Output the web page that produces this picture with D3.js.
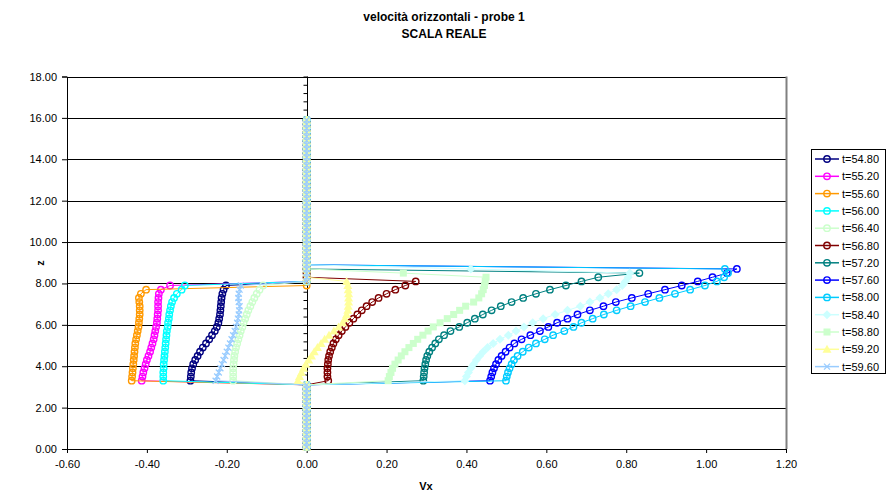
<!DOCTYPE html>
<html>
<head>
<meta charset="utf-8">
<script src="https://cdn.jsdelivr.net/npm/d3@7"></script>
<style>
  body { margin: 0; background: #fff; }
  svg { font-family: "Liberation Sans", Arial, sans-serif; }
</style>
</head>
<body>
<svg id="chart" width="888" height="494"></svg>
<script>
// sampling heights of the probe (z), one every 0.2
var zLevels = [0.1,0.3,0.5,0.7,0.9,1.1,1.3,1.5,1.7,1.9,2.1,2.3,2.5,2.7,2.9,3.1,
  3.3,3.5,3.7,3.9,4.1,4.3,4.5,4.7,4.9,5.1,5.3,5.5,5.7,5.9,6.1,6.3,6.5,6.7,6.9,7.1,
  7.3,7.5,7.7,7.9,8.1,8.3,8.5,8.7,8.9,9.1,9.3,9.5,9.7,9.9,10.1,10.3,10.5,10.7,10.9,
  11.1,11.3,11.5,11.7,11.9,12.1,12.3,12.5,12.7,12.9,13.1,13.3,13.5,13.7,13.9,14.1,
  14.3,14.5,14.7,14.9,15.1,15.3,15.5,15.7,15.9];
var wetStart = 3.3; // first wet level, below and above the profile Vx = 0

// Vx profiles, from z = 3.3 upward
var t5480 = [-0.291,-0.290,-0.289,-0.287,-0.284,-0.279,-0.273,-0.267,-0.260,-0.252,-0.244,-0.237,-0.230,-0.225,-0.221,-0.219,-0.217,-0.216,-0.215,-0.214,-0.213,-0.211,-0.208,-0.202];
var t5520 = [-0.413,-0.411,-0.409,-0.406,-0.403,-0.400,-0.396,-0.392,-0.389,-0.386,-0.383,-0.381,-0.379,-0.377,-0.375,-0.374,-0.373,-0.372,-0.372,-0.372,-0.371,-0.370,-0.365,-0.342];
var t5560 = [-0.438,-0.437,-0.436,-0.435,-0.434,-0.433,-0.432,-0.431,-0.430,-0.429,-0.427,-0.425,-0.423,-0.421,-0.420,-0.419,-0.418,-0.418,-0.418,-0.419,-0.420,-0.415,-0.402];
var t5600 = [-0.359,-0.359,-0.359,-0.358,-0.358,-0.357,-0.356,-0.355,-0.354,-0.353,-0.352,-0.351,-0.350,-0.348,-0.347,-0.345,-0.344,-0.342,-0.340,-0.337,-0.332,-0.325,-0.313,-0.305];
var t5640 = [-0.184,-0.184,-0.184,-0.184,-0.183,-0.182,-0.181,-0.179,-0.177,-0.174,-0.171,-0.168,-0.165,-0.161,-0.158,-0.154,-0.150,-0.146,-0.141,-0.136,-0.131,-0.125,-0.118,-0.109];
var t5680 = [0.054,0.052,0.052,0.052,0.053,0.054,0.056,0.059,0.063,0.067,0.073,0.080,0.088,0.097,0.107,0.117,0.127,0.138,0.150,0.164,0.180,0.200,0.222,0.247,0.273];
var t5720 = [0.292,0.293,0.294,0.295,0.297,0.299,0.302,0.307,0.314,0.322,0.331,0.344,0.360,0.382,0.402,0.421,0.441,0.463,0.486,0.513,0.542,0.574,0.609,0.649,0.688,0.730,0.833];
var t5760 = [0.459,0.462,0.465,0.469,0.474,0.480,0.488,0.498,0.508,0.520,0.538,0.560,0.584,0.605,0.627,0.653,0.678,0.709,0.743,0.774,0.814,0.855,0.897,0.939,0.979,1.016,1.052,1.077];
var t5800 = [0.499,0.501,0.504,0.508,0.513,0.519,0.528,0.541,0.556,0.574,0.596,0.617,0.645,0.668,0.688,0.716,0.744,0.776,0.811,0.847,0.883,0.922,0.960,0.997,1.027,1.045,1.055,1.047];
var t5840 = [0.396,0.400,0.405,0.411,0.418,0.425,0.433,0.442,0.453,0.467,0.484,0.505,0.524,0.544,0.566,0.592,0.622,0.653,0.685,0.709,0.734,0.755,0.776,0.790,0.798,0.805,0.809,0.411];
var t5880 = [0.204,0.207,0.211,0.215,0.221,0.229,0.237,0.246,0.256,0.267,0.278,0.291,0.304,0.317,0.334,0.352,0.368,0.383,0.398,0.418,0.431,0.438,0.442,0.445,0.447,0.449,0.242];
var t5920 = [-0.022,-0.018,-0.013,-0.008,-0.002,0.005,0.012,0.019,0.027,0.036,0.045,0.056,0.068,0.080,0.090,0.096,0.100,0.103,0.104,0.105,0.105,0.105,0.104,0.103,0.100];
var t5960 = [-0.228,-0.224,-0.220,-0.216,-0.212,-0.208,-0.204,-0.200,-0.196,-0.192,-0.188,-0.184,-0.180,-0.177,-0.174,-0.172,-0.170,-0.169,-0.168,-0.170,-0.171,-0.170,-0.168,-0.165];

var seriesNames = ["t=54.80","t=55.20","t=55.60","t=56.00","t=56.40","t=56.80","t=57.20","t=57.60","t=58.00","t=58.40","t=58.80","t=59.20","t=59.60"];
var seriesVals = [t5480,t5520,t5560,t5600,t5640,t5680,t5720,t5760,t5800,t5840,t5880,t5920,t5960];
var seriesColors = ["#000080","#FF00FF","#FF9900","#00FFFF","#CCFFCC","#800000","#008080","#0000FF","#00CCFF","#CCFFFF","#CCFFCC","#FFFF99","#99CCFF"];
var seriesMarkers = ["circle","circle","circle","circle","circle","circle","circle","circle","circle","diamond","square","triangle","x"];

var xTicks = [-0.6,-0.4,-0.2,0,0.2,0.4,0.6,0.8,1.0,1.2];
var yTicks = [0,2,4,6,8,10,12,14,16,18];

var svg = d3.select("#chart");
var plot = {left: 67, right: 786, top: 76.5, bottom: 449};

var xScale = d3.scaleLinear().domain([-0.6, 1.2]).range([plot.left, plot.right]);
var yScale = d3.scaleLinear().domain([0, 18]).range([plot.bottom, plot.top]);

var fmt = function(d) { return d.toFixed(2); };

svg.append("rect").attr("width", 888).attr("height", 494).attr("fill", "#fff");

// gridlines
svg.append("g").selectAll("line")
  .data(yTicks)
  .enter().append("line")
    .attr("x1", plot.left).attr("x2", plot.right)
    .attr("y1", function(d) { return Math.round(yScale(d)) + 0.5; })
    .attr("y2", function(d) { return Math.round(yScale(d)) + 0.5; })
    .attr("stroke", "#000").attr("stroke-width", 1);

// right border of plot area
svg.append("line")
  .attr("x1", plot.right + 0.5).attr("x2", plot.right + 0.5)
  .attr("y1", plot.top).attr("y2", plot.bottom)
  .attr("stroke", "#808080").attr("stroke-width", 2);

// y axis on the left
var yAxisCall = d3.axisLeft(yScale).tickValues(yTicks).tickFormat(fmt).tickSize(5).tickPadding(5);
var gy = svg.append("g")
  .attr("transform", "translate(" + plot.left + ",0)")
  .call(yAxisCall);

// x axis
var xAxisCall = d3.axisBottom(xScale).tickValues(xTicks).tickFormat(fmt).tickSize(4).tickPadding(7);
var gx = svg.append("g")
  .attr("transform", "translate(0," + plot.bottom + ")")
  .call(xAxisCall);

// vertical line at Vx = 0 with minor ticks
var minor = d3.range(0, 18.01, 0.4);
var g0 = svg.append("g")
  .attr("transform", "translate(" + (Math.round(xScale(0)) + 0.5) + ",0)")
  .call(d3.axisLeft(yScale).tickValues(minor).tickSize(4).tickFormat(""));

[gy, gx, g0].forEach(function(g) {
  g.selectAll(".domain").attr("stroke", "#000").attr("stroke-width", 1);
  g.selectAll(".tick line").attr("stroke", "#000");
  g.selectAll("text").attr("font-family", "Liberation Sans, Arial, sans-serif")
    .attr("font-size", 11).attr("fill", "#000");
});
g0.select(".domain").attr("d", "M-0," + plot.bottom + "V" + plot.top);

// series
var line = d3.line()
  .x(function(d) { return xScale(d.vx); })
  .y(function(d) { return yScale(d.z); });

function buildPoints(vals) {
  return zLevels.map(function(z, i) {
    var k = Math.round((z - wetStart) / 0.2);
    var v = (k >= 0 && k < vals.length) ? vals[k] : 0;
    return {z: z, vx: v};
  });
}

function drawMarker(sel, type, color) {
  if (type === "circle") {
    sel.append("circle").attr("r", 3.2).attr("fill", "none")
      .attr("stroke", color).attr("stroke-width", 1.4);
  } else if (type === "square") {
    sel.append("rect").attr("x", -3.5).attr("y", -3.5).attr("width", 7).attr("height", 7)
      .attr("fill", color);
  } else if (type === "diamond") {
    sel.append("path").attr("d", "M0,-4.5L4.5,0L0,4.5L-4.5,0Z").attr("fill", color);
  } else if (type === "triangle") {
    sel.append("path").attr("d", "M0,-4.5L4.5,3.5L-4.5,3.5Z").attr("fill", color);
  } else if (type === "x") {
    sel.append("path").attr("d", "M-3,-3L3,3M-3,3L3,-3")
      .attr("stroke", color).attr("stroke-width", 1.3).attr("fill", "none");
  }
}

var gs = svg.append("g");
seriesVals.forEach(function(vals, si) {
  var pts = buildPoints(vals);
  var g = gs.append("g");
  g.append("path")
    .datum(pts)
    .attr("fill", "none")
    .attr("stroke", seriesColors[si])
    .attr("stroke-width", 1)
    .attr("d", line);
  g.selectAll("g.m")
    .data(pts)
    .enter().append("g")
      .attr("class", "m")
      .attr("transform", function(d) { return "translate(" + xScale(d.vx) + "," + yScale(d.z) + ")"; })
      .each(function() { drawMarker(d3.select(this), seriesMarkers[si], seriesColors[si]); });
});

// titles
svg.append("text").attr("x", 444).attr("y", 21).attr("text-anchor", "middle")
  .attr("font-size", 12).attr("font-weight", "bold").text("velocità orizzontali - probe 1");
svg.append("text").attr("x", 444).attr("y", 38).attr("text-anchor", "middle")
  .attr("font-size", 12).attr("font-weight", "bold").text("SCALA REALE");
svg.append("text").attr("x", 426).attr("y", 490).attr("text-anchor", "middle")
  .attr("font-size", 11).attr("font-weight", "bold").text("Vx");
svg.append("text").attr("transform", "translate(44,263)rotate(-90)").attr("text-anchor", "middle")
  .attr("font-size", 11).attr("font-weight", "bold").text("z");

// legend
var lg = svg.append("g").attr("transform", "translate(811,149)");
lg.append("rect").attr("x", 0.5).attr("y", 0.5).attr("width", 74).attr("height", 224)
  .attr("fill", "#fff").attr("stroke", "#000");
seriesNames.forEach(function(name, i) {
  var row = lg.append("g").attr("transform", "translate(0," + (10 + i * 17.3) + ")");
  row.append("line").attr("x1", 4).attr("x2", 28).attr("stroke", seriesColors[i]).attr("stroke-width", 1.5);
  drawMarker(row.append("g").attr("transform", "translate(16,0)"), seriesMarkers[i], seriesColors[i]);
  row.append("text").attr("x", 31).attr("y", 4).attr("font-size", 11).text(name);
});
</script>
</body>
</html>
